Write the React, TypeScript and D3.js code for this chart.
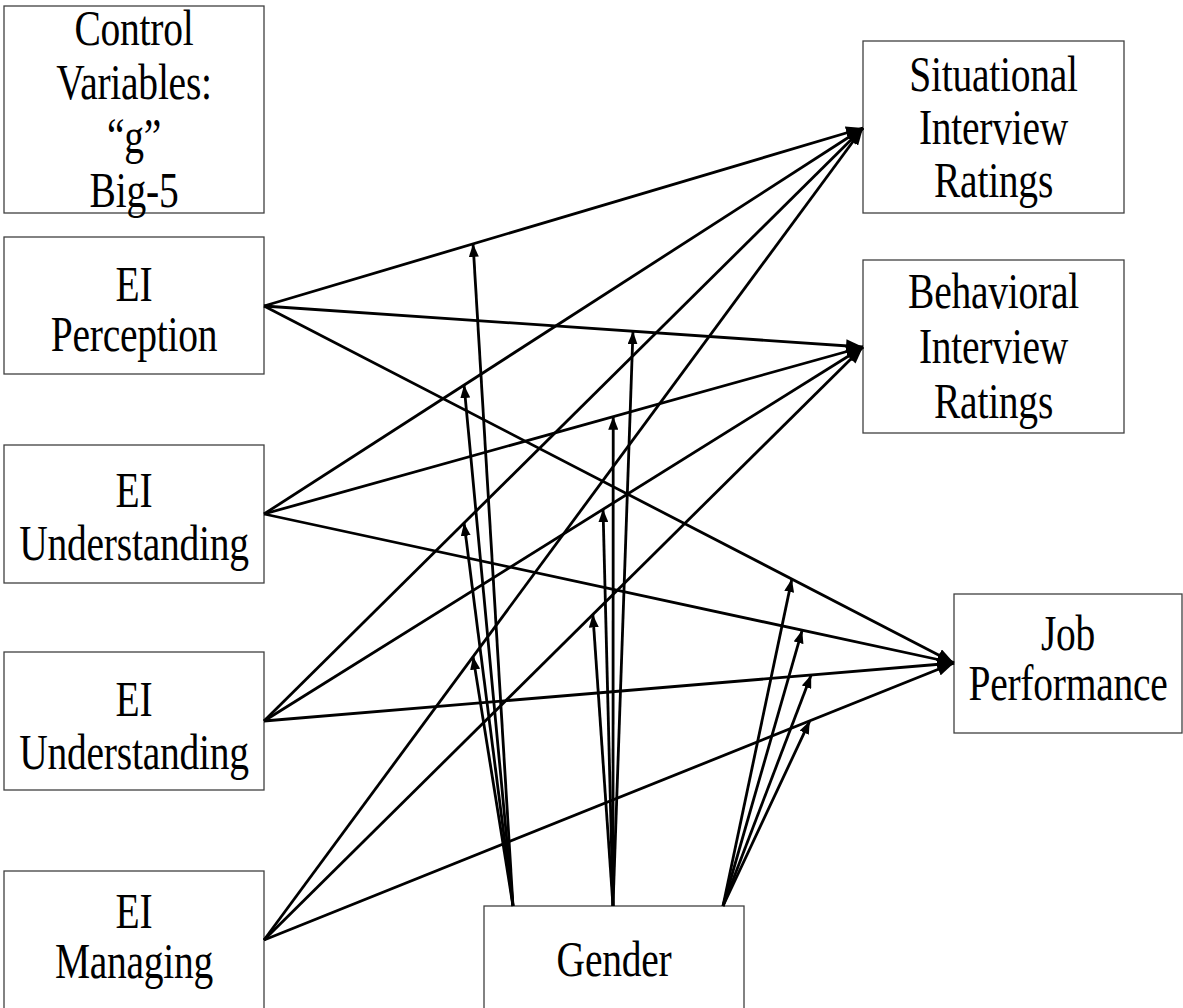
import React from 'react';
import * as d3 from 'd3';

// node labels (one entry per text line)
const nodeIds = ['control', 'perception', 'understanding1', 'understanding2', 'managing', 'situational', 'behavioral', 'job', 'gender'];
const nodeLabels = [
  ['Control', 'Variables:', '\u201Cg\u201D', 'Big-5'],
  ['EI', 'Perception'],
  ['EI', 'Understanding'],
  ['EI', 'Understanding'],
  ['EI', 'Managing'],
  ['Situational', 'Interview', 'Ratings'],
  ['Behavioral', 'Interview', 'Ratings'],
  ['Job', 'Performance'],
  ['Gender'],
];

// paths: every EI branch predicts every outcome
const sources = ['perception', 'understanding1', 'understanding2', 'managing'];
const outcomes = ['situational', 'behavioral', 'job'];

// where gender's moderating arrow meets each path (fraction along source -> outcome), per outcome, per source
const moderatorSituational = [0.349, 0.334, 0.334, 0.349];
const moderatorBehavioral = [0.616, 0.583, 0.566, 0.549];
const moderatorJob = [0.765, 0.780, 0.793, 0.791];

// ---- layout (pixels) ----
const W = 1183;
const H = 1008;
const layout: Record<string, { x0: number; x1: number; y0: number; y1: number; base: number; lh: number }> = {
  control: { x0: 4, x1: 264, y0: 6, y1: 213, base: 45, lh: 54 },
  perception: { x0: 4, x1: 264, y0: 237, y1: 374, base: 301, lh: 50 },
  understanding1: { x0: 4, x1: 264, y0: 445, y1: 583, base: 507, lh: 53 },
  understanding2: { x0: 4, x1: 264, y0: 652, y1: 790, base: 716, lh: 53 },
  managing: { x0: 4, x1: 264, y0: 871, y1: 1030, base: 928, lh: 50 },
  situational: { x0: 863, x1: 1124, y0: 41, y1: 213, base: 91, lh: 53 },
  behavioral: { x0: 863, x1: 1124, y0: 260, y1: 433, base: 308, lh: 55 },
  job: { x0: 954, x1: 1182, y0: 594, y1: 733, base: 650, lh: 50 },
  gender: { x0: 484, x1: 744, y0: 906, y1: 1030, base: 976, lh: 45 },
};
const sourcePoint: Record<string, [number, number]> = {
  perception: [264, 306],
  understanding1: [264, 514],
  understanding2: [264, 721],
  managing: [264, 940],
};
const targetPoint: Record<string, [number, number]> = {
  situational: [863, 128],
  behavioral: [863, 347],
  job: [954, 663],
};
const genderBase: Record<string, [number, number]> = {
  situational: [513, 906],
  behavioral: [613, 906],
  job: [723, 906],
};

const FONT = '"Liberation Serif", "Times New Roman", Times, serif';
const FONT_SIZE = 50;
const SCALE_X = 0.79;

export default function App() {
  const moderators: Record<string, number[]> = {
    situational: moderatorSituational,
    behavioral: moderatorBehavioral,
    job: moderatorJob,
  };

  const line = d3.line<[number, number]>();

  const paths = outcomes.flatMap(o =>
    sources.map((s, i) => {
      const a = sourcePoint[s];
      const b = targetPoint[o];
      const t = moderators[o][i];
      const mid: [number, number] = [d3.interpolateNumber(a[0], b[0])(t), d3.interpolateNumber(a[1], b[1])(t)];
      return { key: `${s}-${o}`, a, b, mid, base: genderBase[o] };
    })
  );

  return (
    <svg
      width={W}
      height={H}
      style={{ position: 'absolute', left: 0, top: 0, background: '#fff' }}
    >
      <defs>
        <marker id="head" viewBox="0 0 17 13" refX={17} refY={6.5} markerWidth={17} markerHeight={13}
          markerUnits="userSpaceOnUse" orient="auto">
          <path d="M0,0 L17,6.5 L0,13 Z" fill="#000" />
        </marker>
        <marker id="headSmall" viewBox="0 0 13 10" refX={13} refY={5} markerWidth={13} markerHeight={10}
          markerUnits="userSpaceOnUse" orient="auto">
          <path d="M0,0 L13,5 L0,10 Z" fill="#000" />
        </marker>
      </defs>
      <rect width={W} height={H} fill="#fff" />

      {/* boxes */}
      {nodeIds.map((id, i) => {
        const b = layout[id];
        const cx = (b.x0 + b.x1) / 2;
        return (
          <g key={id}>
            <rect x={b.x0} y={b.y0} width={b.x1 - b.x0} height={b.y1 - b.y0}
              fill="none" stroke="#404040" strokeWidth={1.3} />
            {nodeLabels[i].map((txt, j) => (
              <text key={j}
                transform={`translate(${cx},${b.base + j * b.lh}) scale(${SCALE_X},1)`}
                textAnchor="middle"
                fontFamily={FONT}
                fontSize={FONT_SIZE}
                letterSpacing={-0.3}
                fill="#000">
                {txt}
              </text>
            ))}
          </g>
        );
      })}

      {/* direct paths */}
      {paths.map(p => (
        <path key={p.key} d={line([p.a, p.b]) || ''} stroke="#000" strokeWidth={2.8}
          fill="none" markerEnd="url(#head)" />
      ))}

      {/* gender moderating arrows */}
      {paths.map(p => (
        <path key={'m-' + p.key} d={line([p.base, p.mid]) || ''} stroke="#000" strokeWidth={2.8}
          fill="none" markerEnd="url(#headSmall)" />
      ))}
    </svg>
  );
}
